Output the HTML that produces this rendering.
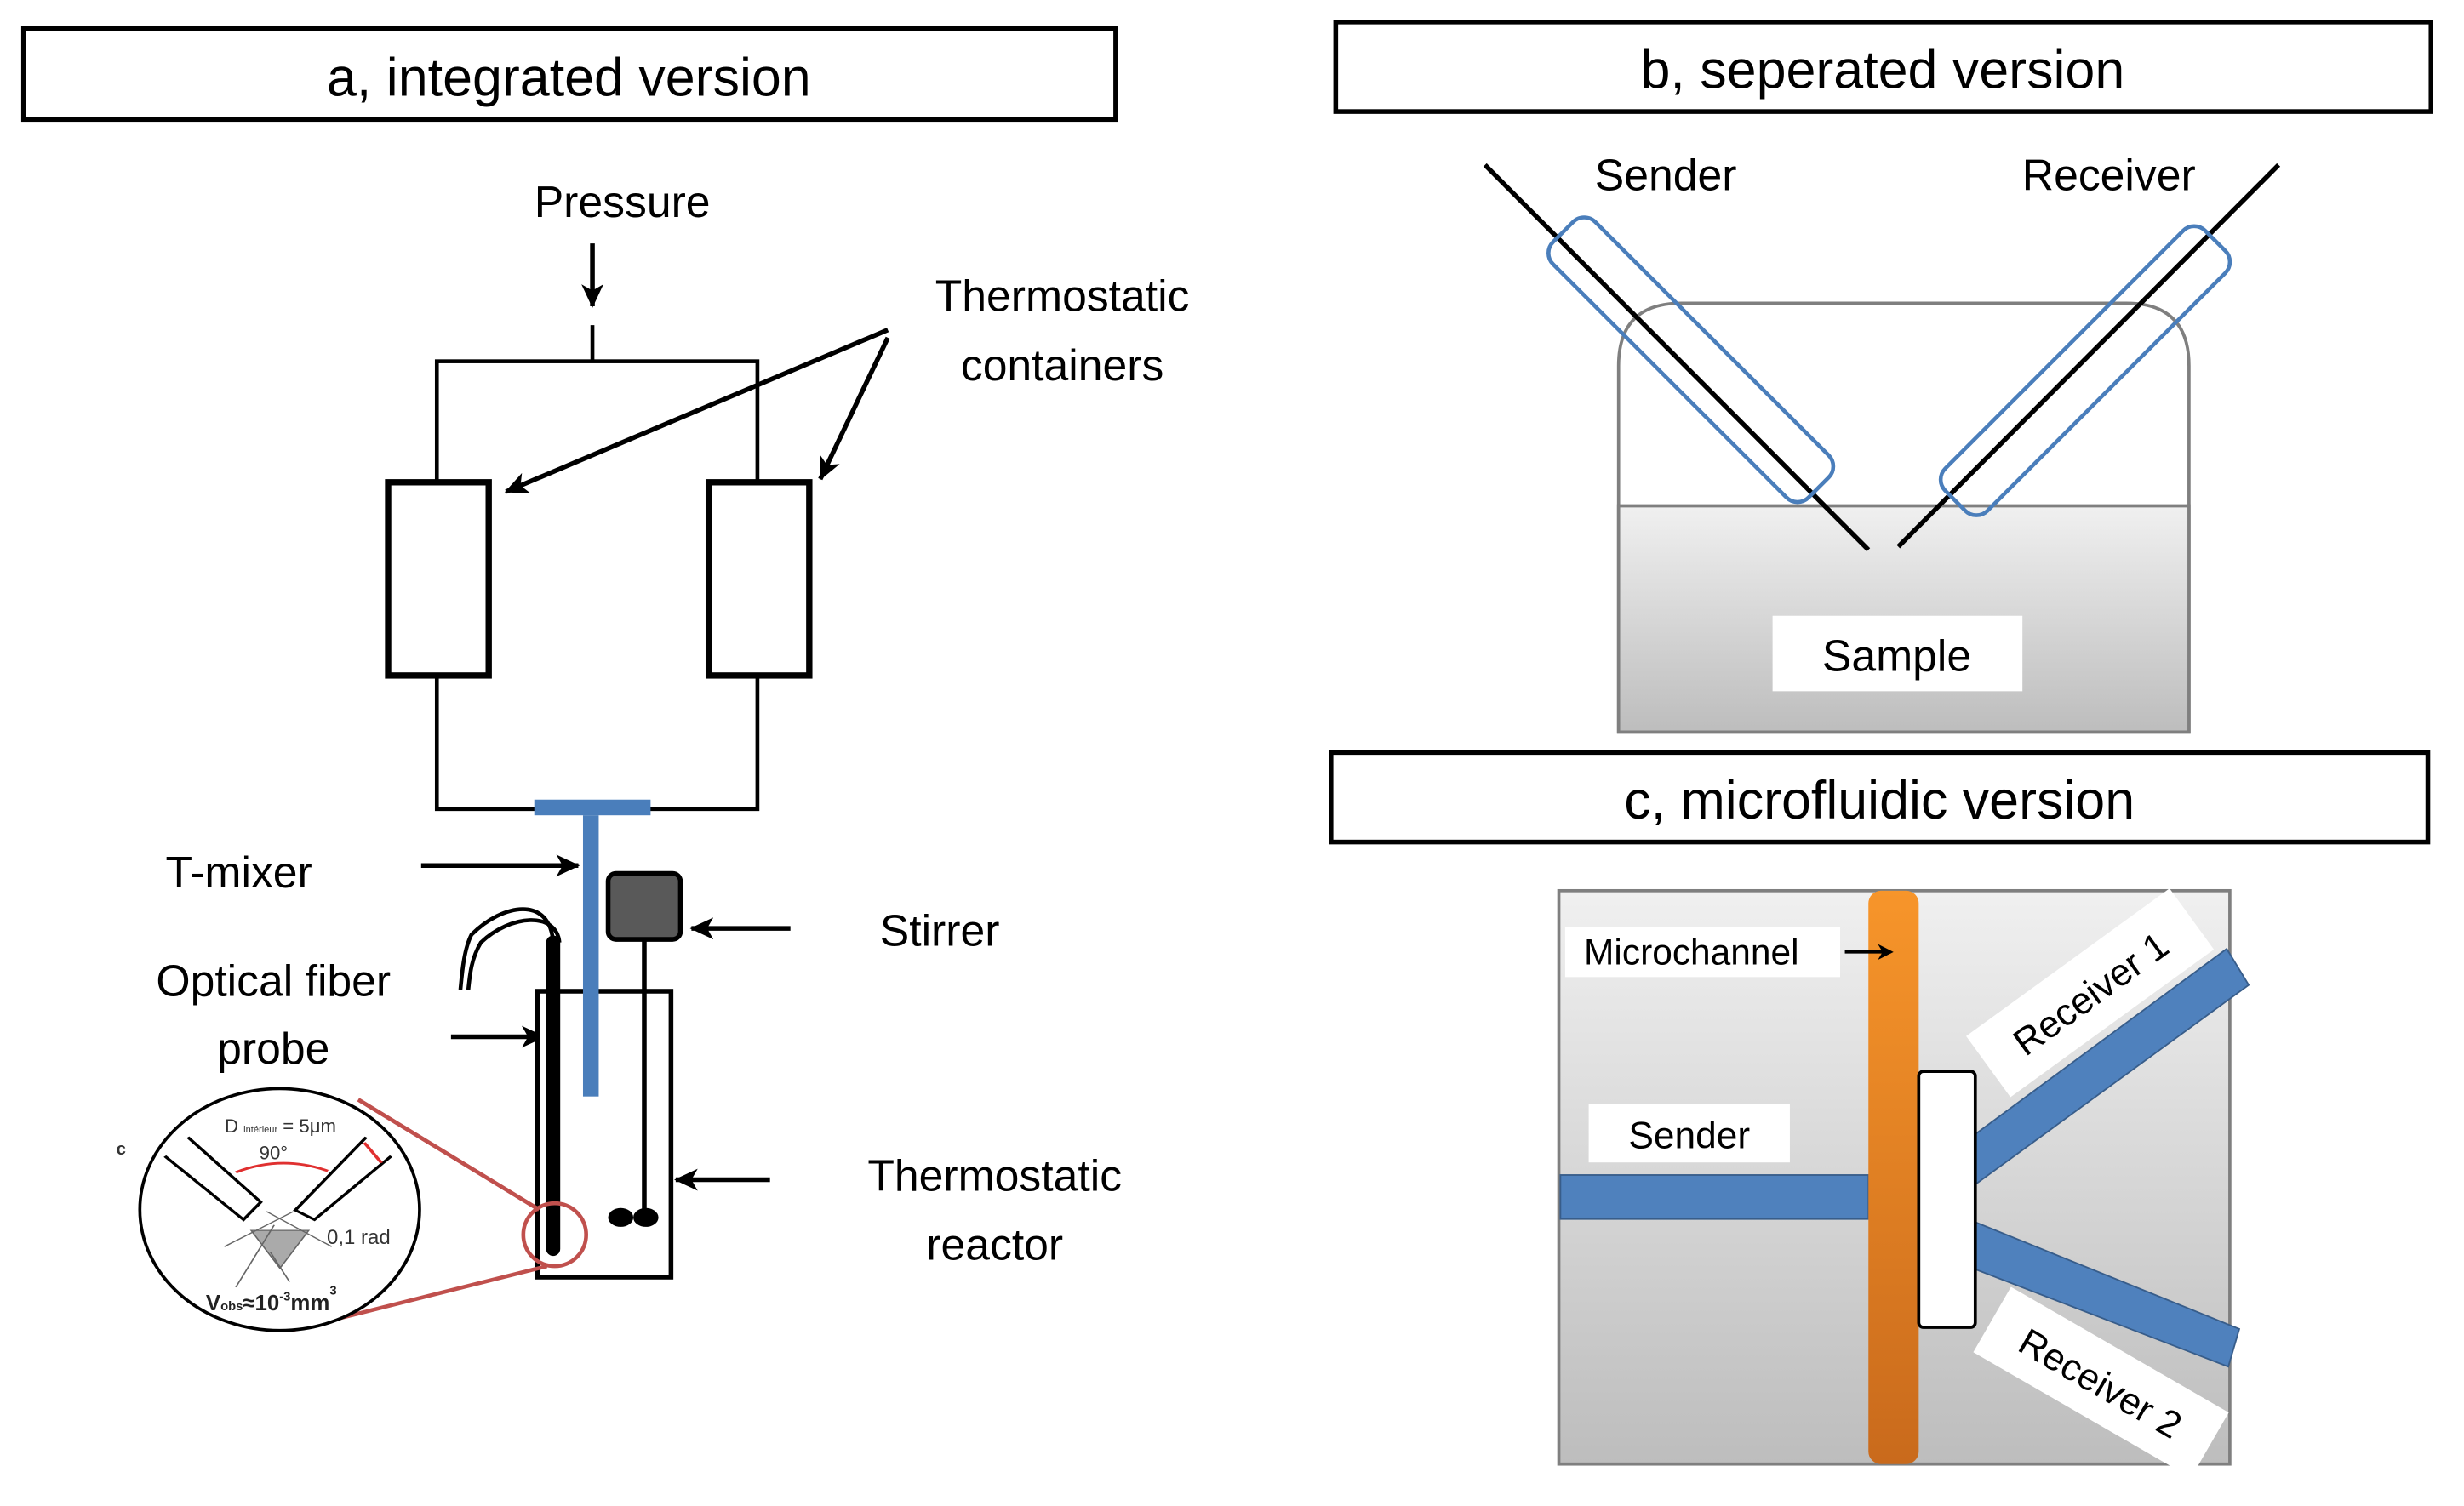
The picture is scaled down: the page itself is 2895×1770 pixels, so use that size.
<!DOCTYPE html>
<html><head><meta charset="utf-8"><style>html,body{margin:0;padding:0;background:#fff;overflow:hidden;width:2895px;height:1770px}svg{display:block}text{font-family:"Liberation Sans",sans-serif}</style></head><body>
<svg width="2895" height="1770" viewBox="0 0 1568 958.7" preserveAspectRatio="none" xmlns="http://www.w3.org/2000/svg">
<defs>
<marker id="ah" markerWidth="10" markerHeight="10" refX="8" refY="5" orient="auto" markerUnits="userSpaceOnUse"><path d="M0,0 L10,5 L0,10 L3,5 Z" fill="#000"/></marker>
<marker id="ahs" markerWidth="16" markerHeight="16" refX="14" refY="8" orient="auto" markerUnits="userSpaceOnUse"><path d="M0,1 L15,8 L0,15 L4,8 Z" fill="#000"/></marker>
<linearGradient id="g1" x1="0" y1="0" x2="0" y2="1"><stop offset="0" stop-color="#f0f0f0"/><stop offset="1" stop-color="#bdbdbd"/></linearGradient>
<linearGradient id="or" x1="0" y1="0" x2="0" y2="1"><stop offset="0" stop-color="#f7952a"/><stop offset="1" stop-color="#c96a1c"/></linearGradient>
</defs>
<!-- titles -->
<rect x="15" y="18" width="695" height="58" fill="#fff" stroke="#000" stroke-width="3"/>
<text x="362" y="61" font-size="34" text-anchor="middle">a, integrated version</text>
<rect x="850" y="14" width="697" height="57" fill="#fff" stroke="#000" stroke-width="3"/>
<text x="1198" y="56" font-size="34" text-anchor="middle">b, seperated version</text>
<rect x="847" y="479" width="698" height="57" fill="#fff" stroke="#000" stroke-width="3"/>
<text x="1196" y="521" font-size="34" text-anchor="middle">c, microfluidic version</text>

<!-- panel a -->
<g font-size="28">
<text x="396" y="138" text-anchor="middle">Pressure</text>
<text x="676" y="198" text-anchor="middle">Thermostatic</text>
<text x="676" y="242" text-anchor="middle">containers</text>
<text x="152" y="565" text-anchor="middle">T-mixer</text>
<text x="598" y="602" text-anchor="middle">Stirrer</text>
<text x="174" y="634" text-anchor="middle">Optical fiber</text>
<text x="174" y="677" text-anchor="middle">probe</text>
<text x="633" y="758" text-anchor="middle">Thermostatic</text>
<text x="633" y="802" text-anchor="middle">reactor</text>
</g>
<g stroke="#000" fill="none">
<line x1="377" y1="155" x2="377" y2="195" stroke-width="3" marker-end="url(#ahs)"/>
<line x1="377" y1="207" x2="377" y2="230" stroke-width="2.5"/>
<rect x="278" y="230" width="204" height="285" stroke-width="2.5"/>
<rect x="247" y="307" width="64" height="123" fill="#fff" stroke-width="4"/>
<rect x="451" y="307" width="64" height="123" fill="#fff" stroke-width="4"/>
<line x1="565" y1="210" x2="322" y2="313" stroke-width="3" marker-end="url(#ahs)"/>
<line x1="565" y1="215" x2="522" y2="305" stroke-width="3" marker-end="url(#ahs)"/>
<line x1="268" y1="551" x2="368" y2="551" stroke-width="3" marker-end="url(#ahs)"/>
<line x1="503" y1="591" x2="440" y2="591" stroke-width="3" marker-end="url(#ahs)"/>
<line x1="287" y1="660" x2="346" y2="660" stroke-width="3" marker-end="url(#ahs)"/>
<line x1="490" y1="751" x2="430" y2="751" stroke-width="3" marker-end="url(#ahs)"/>
<rect x="342" y="631" width="85" height="182" fill="#fff" stroke-width="3"/>
<path d="M352,600 C350,570 320,575 300,595 C295,605 294,620 293,630" stroke-width="2.5"/>
<path d="M356,600 C354,580 325,582 306,600 C300,610 299,620 298,630" stroke-width="2.5"/>
</g>
<rect x="340" y="509" width="74" height="10" fill="#4a7ebb"/>
<rect x="371" y="519" width="10" height="179" fill="#4a7ebb"/>
<line x1="352" y1="600" x2="352" y2="795" stroke="#000" stroke-width="9" stroke-linecap="round"/>
<rect x="387" y="556" width="46" height="42" rx="5" fill="#595959" stroke="#000" stroke-width="3"/>
<line x1="410" y1="598" x2="410" y2="775" stroke="#000" stroke-width="3"/>
<ellipse cx="395" cy="775" rx="8" ry="6" fill="#000"/><ellipse cx="411" cy="775" rx="8" ry="6" fill="#000"/>
<circle cx="353" cy="786" r="20" fill="none" stroke="#c0504d" stroke-width="2.5"/>
<line x1="228" y1="700" x2="343" y2="770" stroke="#c0504d" stroke-width="2.5"/>
<line x1="185" y1="847" x2="348" y2="806" stroke="#c0504d" stroke-width="2.5"/>
<!-- inset -->
<ellipse cx="178" cy="770" rx="89" ry="77" fill="#fff" stroke="#000" stroke-width="2"/>
<line x1="228" y1="700" x2="343" y2="770" stroke="#c0504d" stroke-width="2.5"/>
<g fill="none" transform="translate(72,690.4) scale(0.244,0.172)">
<g stroke="#000" stroke-width="9">
<polyline points="135,265 340,500 385,435 195,195"/>
<polyline points="660,195 475,465 525,500 725,265"/>
</g>
<path d="M360,540 L510,540 L435,680 Z" fill="#aaa" stroke="#666" stroke-width="4"/>
<g stroke="#666" stroke-width="4">
<line x1="290" y1="600" x2="470" y2="470"/>
<line x1="320" y1="750" x2="420" y2="520"/>
<line x1="400" y1="470" x2="570" y2="600"/>
<line x1="460" y1="730" x2="410" y2="620"/>
</g>
<path d="M320,325 Q440,260 560,320" stroke="#e03030" stroke-width="9"/>
<line x1="655" y1="215" x2="700" y2="290" stroke="#e03030" stroke-width="9"/>
</g>
<g font-family="Liberation Serif" fill="#333">
<text x="143" y="721" font-size="12">D <tspan font-size="6">intérieur</tspan> = 5μm</text>
<text x="165" y="738" font-size="12">90°</text>
<text x="208" y="792" font-size="13">0,1 rad</text>
<text x="131" y="834" font-size="14" font-weight="bold" fill="#222">V<tspan font-size="8">obs</tspan>≈10<tspan font-size="8" dy="-6">-3</tspan><tspan dy="6">mm</tspan><tspan font-size="8" dy="-10">3</tspan></text>
<text x="74" y="735" font-size="11" font-weight="bold">c</text>
</g>

<!-- panel b -->
<path d="M1030,466 L1030,233 Q1030,193 1070,193 L1353,193 Q1393,193 1393,233 L1393,466 Z" fill="#fff" stroke="#7f7f7f" stroke-width="2"/>
<path d="M1030,322 L1393,322 L1393,466 L1030,466 Z" fill="url(#g1)" stroke="#7f7f7f" stroke-width="2"/>
<rect x="1128" y="392" width="159" height="48" fill="#fff"/>
<text x="1207" y="427" font-size="28" text-anchor="middle">Sample</text>
<text x="1060" y="121" font-size="28" text-anchor="middle">Sender</text>
<text x="1342" y="121" font-size="28" text-anchor="middle">Receiver</text>
<line x1="945" y1="105" x2="1189" y2="350" stroke="#000" stroke-width="3"/>
<line x1="1450" y1="105" x2="1208" y2="348" stroke="#000" stroke-width="3"/>
<rect x="-115" y="-19" width="230" height="38" rx="10" transform="translate(1076,229) rotate(45)" fill="none" stroke="#4a7ebb" stroke-width="2.5"/>
<rect x="-117" y="-19" width="234" height="38" rx="10" transform="translate(1327,236) rotate(-45)" fill="none" stroke="#4a7ebb" stroke-width="2.5"/>

<!-- panel c -->
<rect x="992" y="567" width="427" height="365" fill="url(#g1)" stroke="#7f7f7f" stroke-width="2"/>
<rect x="996" y="590" width="175" height="32" fill="#fff"/>
<text x="1008" y="614" font-size="23">Microchannel</text>
<rect x="1011" y="703" width="128" height="37" fill="#fff"/>
<text x="1075" y="731" font-size="24" text-anchor="middle">Sender</text>
<rect x="993" y="748" width="196" height="28" fill="#4f81bd" stroke="#385d8a"/>
<polygon points="1257,722 1417,604 1431,627 1257,754" fill="#4f81bd" stroke="#385d8a"/>
<polygon points="1257,778 1257,808 1418,870 1425,846" fill="#4f81bd" stroke="#385d8a"/>
<rect x="1189" y="567" width="32" height="365" rx="8" fill="url(#or)"/>
<line x1="1174" y1="606" x2="1203" y2="606" stroke="#000" stroke-width="2" marker-end="url(#ah)"/>
<rect x="1221" y="682" width="36" height="163" rx="3" fill="#fff" stroke="#000" stroke-width="2"/>
<g transform="translate(1330,632) rotate(-36)"><rect x="-80" y="-24" width="160" height="48" fill="#fff"/><text x="0" y="9" font-size="24" text-anchor="middle">Receiver 1</text></g>
<g transform="translate(1337,880) rotate(30)"><rect x="-80" y="-24" width="160" height="48" fill="#fff"/><text x="0" y="9" font-size="24" text-anchor="middle">Receiver 2</text></g>
</svg>
</body></html>
